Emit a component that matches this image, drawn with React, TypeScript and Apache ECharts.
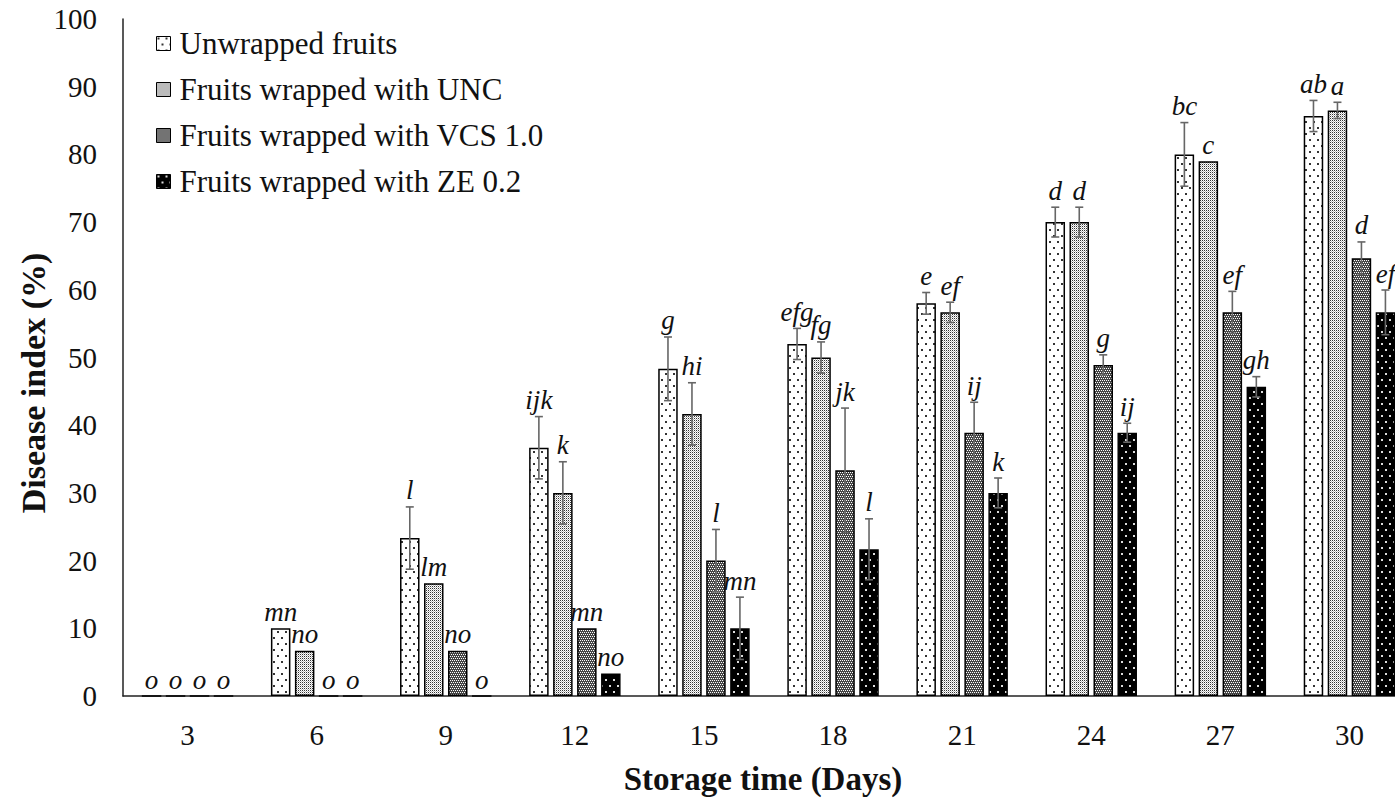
import React, { useEffect, useRef } from "react";
import * as echarts from "echarts";

// Storage days (x categories)
const days = ["3", "6", "9", "12", "15", "18", "21", "24", "27", "30"];

const seriesNames = [
  "Unwrapped fruits",
  "Fruits wrapped with UNC",
  "Fruits wrapped with VCS 1.0",
  "Fruits wrapped with ZE 0.2",
];

// Disease index (%) per treatment
const unwrapped = [0, 10, 23.33, 36.67, 48.33, 52, 58, 70, 80, 85.67];
const unc = [0, 6.67, 16.67, 30, 41.67, 50, 56.67, 70, 79, 86.5];
const vcs = [0, 0, 6.67, 10, 20, 33.33, 38.89, 48.89, 56.67, 64.67];
const ze = [0, 0, 0, 3.33, 10, 21.67, 30, 38.89, 45.67, 56.67];

// Standard errors
const unwrappedErr = [0, 0, 4.6, 4.6, 4.7, 2.3, 1.6, 2.2, 4.7, 2.3];
const uncErr = [0, 0, 0, 4.6, 4.6, 2.3, 1.5, 2.2, 0, 1.2];
const vcsErr = [0, 0, 0, 0, 4.6, 9.2, 4.5, 1.5, 3.1, 2.4];
const zeErr = [0, 0, 0, 0, 4.6, 4.5, 2.2, 1.4, 1.5, 3.3];

// Significance letters
const unwrappedLetters = ["o", "mn", "l", "ijk", "g", "efg", "e", "d", "bc", "ab"];
const uncLetters = ["o", "no", "lm", "k", "hi", "fg", "ef", "d", "c", "a"];
const vcsLetters = ["o", "o", "no", "mn", "l", "jk", "ij", "g", "ef", "d"];
const zeLetters = ["o", "o", "o", "no", "mn", "l", "k", "ij", "gh", "ef"];

const values = [unwrapped, unc, vcs, ze];
const errors = [unwrappedErr, uncErr, vcsErr, zeErr];
const letters = [unwrappedLetters, uncLetters, vcsLetters, zeLetters];

const SERIF = '"Liberation Serif", "Times New Roman", serif';
const BAR_WIDTH = 19.5;
const BAR_GAP = 0.23;
const PITCH = BAR_WIDTH * (1 + BAR_GAP);

function makeTile(
  w: number,
  h: number,
  bg: string,
  dots: Array<[number, number, number, string]>
): HTMLCanvasElement {
  const c = document.createElement("canvas");
  c.width = w;
  c.height = h;
  const ctx = c.getContext("2d")!;
  ctx.fillStyle = bg;
  ctx.fillRect(0, 0, w, h);
  dots.forEach(([x, y, s, col]) => {
    ctx.fillStyle = col;
    ctx.fillRect(x, y, s, s);
  });
  return c;
}

function patterns() {
  const sparse = makeTile(8, 12, "#ffffff", [
    [1, 1, 2, "#333"],
    [5, 7, 2, "#333"],
  ]);
  const fine = makeTile(2, 2, "#ffffff", [
    [0, 0, 1, "#333"],
    [1, 1, 1, "#bbb"],
  ]);
  const hatch = makeTile(4, 4, "#444444", [
    [0, 0, 1, "#fff"],
    [2, 0, 1, "#fff"],
    [1, 2, 1, "#fff"],
    [3, 2, 1, "#fff"],
  ]);
  const dark = makeTile(8, 12, "#000000", [
    [1, 1, 2, "#ddd"],
    [5, 7, 2, "#ddd"],
  ]);
  return [sparse, fine, hatch, dark].map((img) => ({
    image: img,
    repeat: "repeat",
  }));
}

export default function App() {
  const ref = useRef<HTMLDivElement>(null);

  useEffect(() => {
    if (!ref.current) return;
    const chart = echarts.init(ref.current, undefined, { renderer: "svg" });
    const fills = patterns();

    const barSeries = seriesNames.map((name, i) => ({
      name,
      type: "bar",
      data: values[i],
      barWidth: BAR_WIDTH,
      barGap: `${BAR_GAP * 100}%`,
      itemStyle: {
        color: fills[i] as any,
        borderColor: "#000",
        borderWidth: 1.5,
      },
    }));

    const errData: number[][] = [];
    const errLetters: string[] = [];
    values.forEach((vals, s) => {
      vals.forEach((v, c) => {
        errData.push([c, s, v, errors[s][c]]);
        errLetters.push(letters[s][c]);
      });
    });

    // Error bars with significance letters above them
    const errSeries = {
      type: "custom",
      z: 5,
      data: errData,
      encode: { x: 0, y: 2 },
      silent: true,
      renderItem: (params: any, api: any) => {
        const c = api.value(0);
        const s = api.value(1);
        const v = api.value(2);
        const e = api.value(3);
        const top = api.coord([c, v + e]);
        const bot = api.coord([c, v - e]);
        const x = top[0] + (s - 1.5) * PITCH;
        const children: any[] = [];
        const lineStyle = { stroke: "#666", lineWidth: 1.6 };
        if (e > 0) {
          children.push(
            { type: "line", shape: { x1: x, y1: top[1], x2: x, y2: bot[1] }, style: lineStyle },
            { type: "line", shape: { x1: x - 4, y1: top[1], x2: x + 4, y2: top[1] }, style: lineStyle },
            { type: "line", shape: { x1: x - 4, y1: bot[1], x2: x + 4, y2: bot[1] }, style: lineStyle }
          );
        }
        children.push({
          type: "text",
          x,
          y: top[1] - 3,
          style: {
            text: errLetters[params.dataIndex],
            font: `italic 27px ${SERIF}`,
            fill: "#111",
            align: "center",
            verticalAlign: "bottom",
          },
        });
        return { type: "group", children };
      },
    };

    chart.setOption({
      animation: false,
      backgroundColor: "#fff",
      grid: {
        left: 123,
        top: 19,
        width: 1291,
        height: 677,
        containLabel: false,
        outerBoundsMode: "none",
      },
      legend: {
        data: seriesNames,
        orient: "vertical",
        left: 156,
        top: 28,
        itemWidth: 14,
        itemHeight: 14,
        itemGap: 15,
        icon: "rect",
        padding: 0,
        itemStyle: { borderColor: "#000", borderWidth: 1 },
        textStyle: {
          fontFamily: SERIF,
          fontSize: 31,
          color: "#111",
          padding: [0, 0, 0, 4],
        },
      },
      xAxis: {
        type: "category",
        data: days,
        axisLine: { lineStyle: { color: "#222", width: 1.5 } },
        axisTick: { show: false },
        axisLabel: { fontFamily: SERIF, fontSize: 29, color: "#111", margin: 24 },
      },
      yAxis: {
        type: "value",
        min: 0,
        max: 100,
        interval: 10,
        splitLine: { show: false },
        axisLine: { show: true, lineStyle: { color: "#222", width: 1.5 } },
        axisTick: { show: false },
        axisLabel: { fontFamily: SERIF, fontSize: 29, color: "#111", margin: 26 },
      },
      graphic: [
        {
          type: "text",
          x: 33,
          y: 383,
          rotation: Math.PI / 2,
          style: {
            text: "Disease index (%)",
            font: `bold 34px ${SERIF}`,
            fill: "#111",
            align: "center",
            verticalAlign: "middle",
          },
        },
        {
          type: "text",
          x: 763,
          y: 779,
          style: {
            text: "Storage time (Days)",
            font: `bold 33px ${SERIF}`,
            fill: "#111",
            align: "center",
            verticalAlign: "middle",
          },
        },
      ],
      series: [...barSeries, errSeries],
    });

    return () => chart.dispose();
  }, []);

  return (
    <div
      ref={ref}
      style={{ position: "absolute", left: 0, top: 0, width: 1395, height: 801 }}
    />
  );
}
